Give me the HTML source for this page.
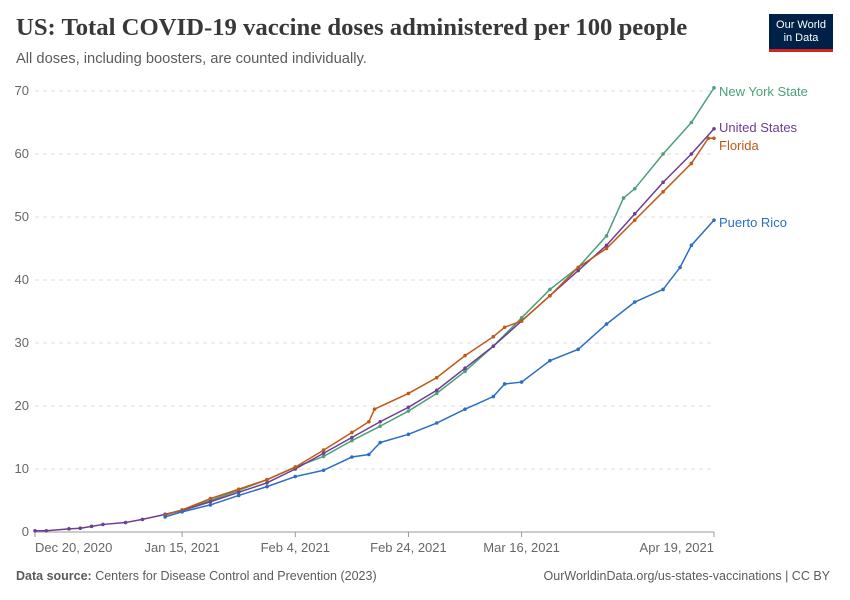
<!DOCTYPE html>
<html><head><meta charset="utf-8"><style>
body{margin:0;background:#fff;width:850px;height:600px;overflow:hidden;font-family:"Liberation Sans",sans-serif}
#title{position:absolute;left:16px;top:14px;font-family:"Liberation Serif",serif;font-size:24.7px;font-weight:bold;color:#383838;margin:0}
#sub{position:absolute;left:16px;top:51px;font-size:14.7px;color:#5b5b5b}
#logo{position:absolute;left:769px;top:14px;width:64px;height:38px;background:#002147;border-bottom:3px solid #ce261e;color:#fff;font-size:11px;text-align:center;line-height:13px;padding-top:5px;box-sizing:border-box}
#foot{position:absolute;left:16px;top:569px;font-size:12.5px;color:#5b5b5b}
#foot2{position:absolute;right:20px;top:569px;font-size:12.5px;color:#5b5b5b}
</style></head><body>
<h1 id="title">US: Total COVID-19 vaccine doses administered per 100 people</h1>
<div id="sub">All doses, including boosters, are counted individually.</div>
<div id="logo">Our World<br>in Data</div>
<svg id="chart" width="850" height="600" style="position:absolute;left:0;top:0"></svg>
<div id="foot"><b>Data source:</b> Centers for Disease Control and Prevention (2023)</div>
<div id="foot2">OurWorldinData.org/us-states-vaccinations | CC BY</div>
<script>
const usDays=[0,2,6,8,10,12,16,19,23,26,31,36,41,46,51,56,61,66,71,76,81,86,91,96,101,106,111,116,120];
const usVals=[0.2,0.2,0.5,0.6,0.9,1.2,1.5,2.0,2.8,3.4,4.8,6.3,7.8,10.0,12.5,15,17.5,19.8,22.5,26,29.5,33.5,37.5,41.5,45.5,50.5,55.5,60,64];
const nyDays=[23,26,31,36,41,46,51,56,61,66,71,76,81,86,91,96,101,104,106,111,116,120];
const nyVals=[2.8,3.5,5.0,6.6,8.3,10.3,12.0,14.5,16.8,19.2,22,25.5,29.5,34,38.5,42,47,53,54.5,60,65,70.5];
const flDays=[23,26,31,36,41,46,51,56,59,60,66,71,76,81,83,86,91,96,101,106,111,116,119,120];
const flVals=[2.7,3.5,5.3,6.8,8.3,10.3,13,15.8,17.5,19.5,22,24.5,28,31,32.5,33.5,37.5,42,45,49.5,54,58.5,62.5,62.5];
const prDays=[23,26,31,36,41,46,51,56,59,61,66,71,76,81,83,86,91,96,101,106,111,114,116,120];
const prVals=[2.4,3.2,4.3,5.8,7.2,8.8,9.8,11.9,12.3,14.2,15.5,17.3,19.5,21.5,23.5,23.8,27.2,29,33,36.5,38.5,42,45.5,49.5];
const yTicks=[0,10,20,30,40,50,60,70];
const xTickDays=[0,26,46,66,86,120];
const xTickLabels=["Dec 20, 2020","Jan 15, 2021","Feb 4, 2021","Feb 24, 2021","Mar 16, 2021","Apr 19, 2021"];
const seriesNames=["New York State","United States","Florida","Puerto Rico"];
const X=d=>35+d*(714-35)/120;
const Y=v=>532-v*(532-91)/70;
const svg=document.getElementById('chart');
const NS='http://www.w3.org/2000/svg';
function mk(t,a){const e=document.createElementNS(NS,t);for(const k in a)e.setAttribute(k,a[k]);svg.appendChild(e);return e;}
yTicks.forEach(v=>{
  const l=mk('line',{x1:35,x2:714,y1:Y(v),y2:Y(v),stroke:v?'#ddd':'#999','stroke-dasharray':v?'4,4':''});
  
  
  const t=mk('text',{x:29,y:Y(v)+4,'text-anchor':'end','font-size':13,fill:'#666'});t.textContent=v;
  
  
});
xTickDays.forEach((d,i)=>{
  const tk=mk('line',{x1:X(d),x2:X(d),y1:532,y2:537,stroke:'#999'});
  
  
  const anchor=i==0?'start':(i==xTickDays.length-1?'end':'middle');
  const t=mk('text',{x:X(d),y:552,'text-anchor':anchor,'font-size':13,fill:'#666'});t.textContent=xTickLabels[i];
  
  
});
const series=[[nyDays,nyVals,'#4c9f7a'],[usDays,usVals,'#6d3e91'],[flDays,flVals,'#c05917'],[prDays,prVals,'#2d6ec2']];
const labY=[91,127,145,222];
series.forEach((s,i)=>{
  const [ds,vs,c]=s;
  const p=mk('polyline',{points:ds.map((d,j)=>X(d)+','+Y(vs[j])).join(' '),fill:'none',stroke:c,'stroke-width':1.5});
  
  
  ds.forEach((d,j)=>{
    const m=mk('circle',{cx:X(d),cy:Y(vs[j]),r:1.8,fill:c});
    
    
  });
  const t=mk('text',{x:719,y:labY[i]+5,'font-size':13,fill:c});t.textContent=seriesNames[i];
  
  
});
</script>
</body></html>
